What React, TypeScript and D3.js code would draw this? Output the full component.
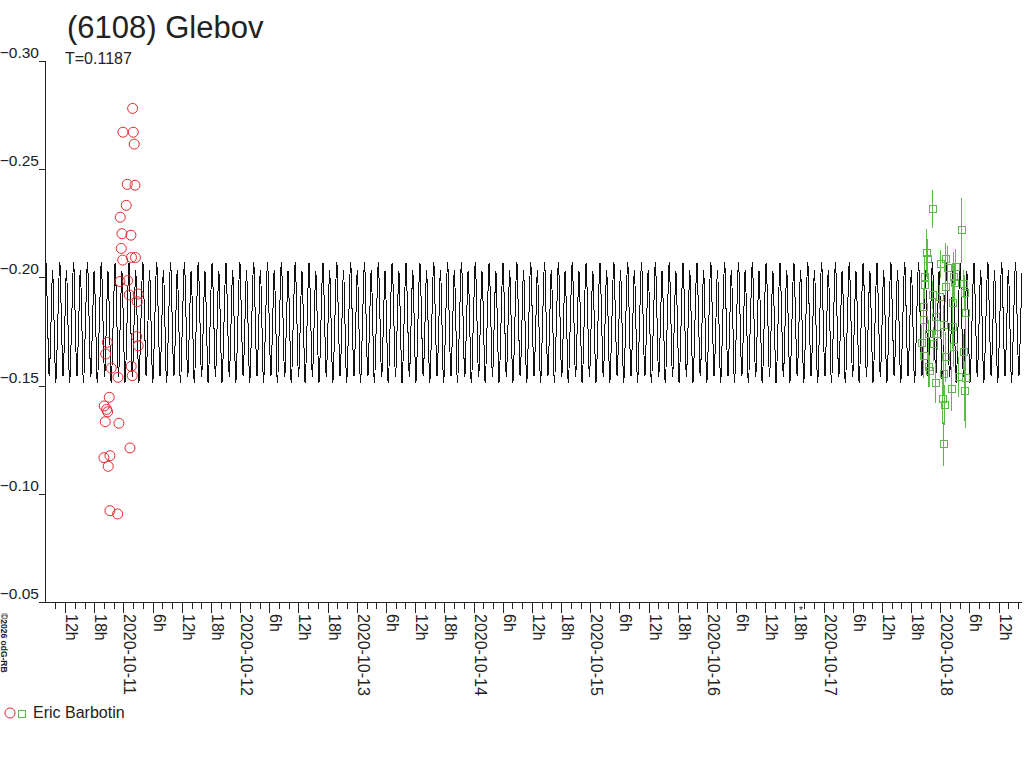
import * as d3 from "d3";

// chart window (UTC) and magnitude axis
const timeStart = "2020-10-10T07:52:00Z";
const timeEnd = "2020-10-18T16:48:00Z";
const magTicks = [-0.3, -0.25, -0.2, -0.15, -0.1, -0.05];

// lightcurve model: period (days), epoch of the main maximum, one cycle
const period = 0.1187;
const maxEpoch = "2020-10-14T11:45:00Z";
const cyclePhase = [0, 0.12, 0.24, 0.37, 0.49, 0.6, 0.72, 0.86];
const cycleMag = [-0.2067, -0.1815, -0.1544, -0.179, -0.203, -0.178, -0.1512, -0.179];

// Eric Barbotin, night 1 (hours from 2020-10-11 00:00 UTC)
const redHours = [
  1.89, -0.1, 2.02, 2.22, 0.78, 2.37, 0.58, -0.66, -0.31, 1.54, -0.45, -0.16, 1.65,
  2.47, -0.72, 0.86, 1.19, 3.04, 2.84, -3.33, 2.71, 3.04, -3.66, -2.51, -1.13, 1.6,
  1.81, -2.92, -3.95, -3.46, -3.25, -3.74, -0.93, 1.34, -4.01, -2.78, -3.13, -2.78, -1.19,
];
const redMags = [
  -0.2781, -0.2671, -0.2671, -0.2616, -0.243, -0.2426, -0.2333, -0.2278, -0.2202, -0.2195,
  -0.2134, -0.208, -0.2092, -0.2092, -0.1981, -0.1985, -0.1919, -0.1923, -0.1888, -0.17,
  -0.1726, -0.1684, -0.1646, -0.1581, -0.1538, -0.1589, -0.1546, -0.1446, -0.1406, -0.139,
  -0.1379, -0.1333, -0.1326, -0.1212, -0.1167, -0.1176, -0.1127, -0.0922, -0.0907,
];

// Eric Barbotin, night 2 (hours from 2020-10-18 00:00 UTC) with errors
const greenHours = [
  -1.62, 4.24, -2.96, -2.76, 1.05, -0.08, 1.3, 3.0, -3.31, 2.65, -3.37, 0.95, 2.86, 4.59,
  4.85, -1.73, -0.23, -3.52, 2.45, 5.06, -3.52, -1.11, 0.6, 2.32, -2.49, -0.76, -3.89,
  -1.46, 2.65, -3.58, 0.88, 4.59, -2.55, -2.24, 0.47, 3.62, 5.12, -1.17, 2.18, 4.79, 0.33,
  0.74, 0.47,
];
const greenMags = [
  -0.2316, -0.2217, -0.2113, -0.2085, -0.2085, -0.2062, -0.2043, -0.2047, -0.2003, -0.2003,
  -0.1965, -0.1957, -0.1973, -0.197, -0.1927, -0.1919, -0.1911, -0.1865, -0.188, -0.1837,
  -0.1803, -0.1818, -0.178, -0.1772, -0.1738, -0.1738, -0.1698, -0.1691, -0.168, -0.1637,
  -0.1631, -0.1657, -0.1585, -0.1569, -0.1552, -0.1538, -0.1534, -0.1511, -0.1486, -0.1476,
  -0.1437, -0.1409, -0.123,
];
const greenErrs = [
  0.0088, 0.0152, 0.0111, 0.0092, 0.0074, 0.0065, 0.0102, 0.0083, 0.0102, 0.0116, 0.0055,
  0.0069, 0.0092, 0.0065, 0.0083, 0.0065, 0.0055, 0.0083, 0.0092, 0.0074, 0.0069, 0.0083,
  0.0092, 0.0102, 0.0065, 0.0074, 0.0083, 0.0079, 0.0092, 0.0102, 0.0116, 0.0083, 0.0092,
  0.0074, 0.0102, 0.0092, 0.0231, 0.0092, 0.0102, 0.0139, 0.0116, 0.0092, 0.0102,
];

const FONT = "'Liberation Sans', Arial, sans-serif";
const INK = "#222";
const RED = "#e8262e";
const GREEN = "#5cbb48";
const HOUR = 3600 * 1000;
const DAY = 24 * HOUR;

export default function App() {
  const t0 = new Date(timeStart);
  const t1 = new Date(timeEnd);
  const x = d3.scaleUtc().domain([t0, t1]).range([45, 1022]);
  const y = d3.scaleLinear().domain([-0.3, -0.05]).range([61, 602]);

  // tile the model cycle over the window
  const epoch = +new Date(maxEpoch);
  const kFirst = Math.floor((+t0 - epoch) / (period * DAY)) - 1;
  const kLast = Math.ceil((+t1 - epoch) / (period * DAY)) + 1;
  const model: [number, number][] = [];
  for (let k = kFirst; k <= kLast; k++) {
    cyclePhase.forEach((p, i) => {
      const t = epoch + (k + p) * period * DAY;
      model.push([t, cycleMag[i]]);
    });
  }
  const line = d3
    .line<[number, number]>()
    .x((d) => x(new Date(d[0])))
    .y((d) => y(d[1]))
    .curve(d3.curveCardinal);
  const inside = model.filter((d) => d[0] >= +t0 - period * DAY && d[0] <= +t1 + period * DAY);

  const night1 = +new Date("2020-10-11T00:00:00Z");
  const night2 = +new Date("2020-10-18T00:00:00Z");

  const ticks = d3.utcHour
    .every(2)!
    .range(t0, t1)
    .filter((d) => x(d) > 47);
  const fmtDate = d3.utcFormat("%Y-%m-%d");

  return (
    <div style={{ position: "absolute", left: 0, top: 0 }}>
      <svg width={1024} height={768} style={{ display: "block", background: "#fff" }} fontFamily={FONT}>
        <defs>
          <clipPath id="plot">
            <rect x={45} y={0} width={977} height={602} />
          </clipPath>
        </defs>

        <text x={67} y={38} fontSize={31} fill={INK}>
          (6108) Glebov
        </text>
        <text x={65} y={64} fontSize={16} fill={INK}>
          T=0.1187
        </text>

        {/* model lightcurve */}
        <path
          d={line(inside) ?? ""}
          fill="none"
          stroke="#111"
          strokeWidth={1}
          clipPath="url(#plot)"
          shapeRendering="crispEdges"
        />

        {/* night 1 */}
        <g fill="none" stroke={RED} strokeWidth={1}>
          {redHours.map((h, i) => (
            <circle key={i} cx={x(new Date(night1 + h * HOUR))} cy={y(redMags[i])} r={5} />
          ))}
        </g>

        {/* night 2 */}
        <g fill="none" stroke={GREEN} strokeWidth={1} shapeRendering="crispEdges">
          {greenHours.map((h, i) => {
            const cx = Math.round(x(new Date(night2 + h * HOUR))) + 0.5;
            const cy = y(greenMags[i]);
            return (
              <g key={i}>
                <line x1={cx} x2={cx} y1={y(greenMags[i] - greenErrs[i])} y2={y(greenMags[i] + greenErrs[i])} />
                <rect x={cx - 3.5} y={cy - 3.5} width={7} height={7} />
              </g>
            );
          })}
        </g>

        {/* axes */}
        <g stroke={INK} shapeRendering="crispEdges">
          <line x1={45.5} x2={45.5} y1={61} y2={602.5} />
          <line x1={45} x2={1022} y1={602.5} y2={602.5} />
          {magTicks.map((v) => (
            <line key={v} x1={39} x2={45} y1={Math.round(y(v)) + 0.5} y2={Math.round(y(v)) + 0.5} />
          ))}
          {ticks.map((d) => {
            const tx = Math.round(x(d)) + 0.5;
            const major = d.getUTCHours() % 6 === 0;
            return <line key={+d} x1={tx} x2={tx} y1={602} y2={major ? 613 : 609} />;
          })}
        </g>
        <g fontSize={16} fill={INK}>
          {magTicks.map((v) => (
            <text key={v} x={39} y={y(v) - 3} textAnchor="end" fontSize={15.5}>
              {d3.format(".2f")(v)}
            </text>
          ))}
          {ticks
            .filter((d) => d.getUTCHours() % 6 === 0)
            .map((d) => {
              const h = d.getUTCHours();
              const tx = x(d) + 1;
              return (
                <text key={+d} transform={`translate(${tx},614) rotate(90)`}>
                  {h === 0 ? fmtDate(d) : `${h}h`}
                </text>
              );
            })}
        </g>
        <text x={799} y={614} fontSize={10} fill={INK}>
          *
        </text>

        <text transform="translate(1,613) rotate(90)" fontSize={8.5} fontWeight="bold" fill={INK}>
          ©2026 odG-RB
        </text>

        {/* legend */}
        <circle cx={10} cy={713} r={5} fill="none" stroke={RED} />
        <rect x={18.5} y={710.5} width={7} height={7} fill="none" stroke={GREEN} shapeRendering="crispEdges" />
        <text x={33} y={718} fontSize={16} fill={INK}>
          Eric Barbotin
        </text>
      </svg>
    </div>
  );
}
